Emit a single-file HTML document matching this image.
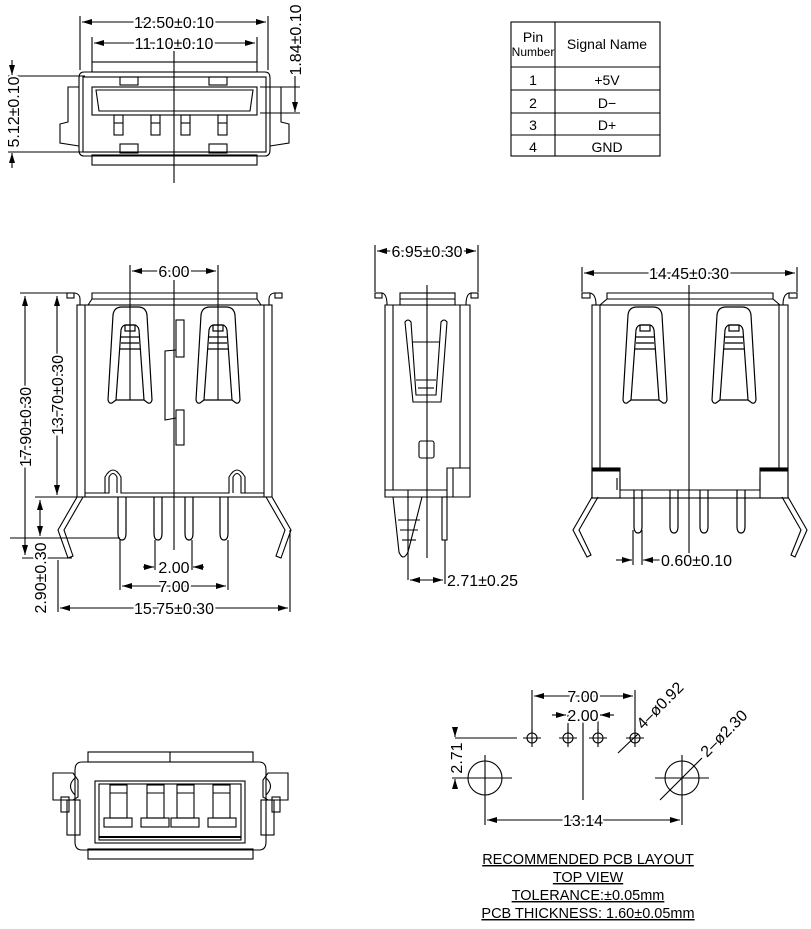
<!DOCTYPE html>
<html><head><meta charset="utf-8"><style>
html,body{margin:0;padding:0;background:#fff}
svg{display:block}
text{font-family:"Liberation Sans",Arial,sans-serif;fill:#000}
</style></head><body>
<svg width="811" height="929" viewBox="0 0 811 929" xmlns="http://www.w3.org/2000/svg">
<defs>
<marker id="a" viewBox="0 0 10 6" refX="10" refY="3" markerWidth="10" markerHeight="6" orient="auto-start-reverse" markerUnits="userSpaceOnUse"><path d="M0,0 L10,3 L0,6 z" fill="#000"/></marker>
<g id="spring" fill="none" stroke="#000" stroke-width="1.2">
<path d="M-22,93 L-17,8 Q-16,0 -8,0 L8,0 Q16,0 17,8 L22,93 Q21,97 18,96 L14,93 L-14,93 L-18,96 Q-21,97 -22,93 Z"/>
<path d="M-14,93 L-9,23 Q-8,18 -4,18 L4,18 Q8,18 9,23 L14,93"/>
<rect x="-5" y="18" width="10" height="6"/>
<line x1="-9" y1="30" x2="9" y2="30"/><line x1="-9" y1="36" x2="9" y2="36"/><line x1="-10" y1="42" x2="10" y2="42"/>
</g>
<g id="pin" fill="none" stroke="#000" stroke-width="1.2">
<path d="M-4,0 L-4,36 Q-4,43 0,43 Q4,43 4,36 L4,0"/>
</g>
</defs>
<g fill="none" stroke="#000" stroke-width="1.1">
<rect x="92" y="62" width="165" height="10"/>
<path d="M84,72 L265,72 Q270,72 270,78 L270,150 Q270,156 265,156 L84,156 Q79,156 79,150 L79,78 Q79,72 84,72 Z"/>
<rect x="83" y="77" width="183" height="75"/>
<rect x="92" y="87" width="165" height="28"/>
<path d="M96,90 L253,90 L250,111 L99,111 Z"/>
<rect x="92" y="155" width="165" height="10"/>
<rect x="120" y="77" width="18" height="8"/><rect x="209" y="77" width="18" height="8"/>
<rect x="120" y="144" width="18" height="9"/><rect x="209" y="144" width="18" height="9"/>
<rect x="114" y="115" width="9" height="20"/><rect x="151" y="115" width="9" height="20"/><rect x="181" y="115" width="9" height="20"/><rect x="218" y="115" width="9" height="20"/>
<line x1="114" y1="123" x2="123" y2="123"/><line x1="151" y1="123" x2="160" y2="123"/><line x1="181" y1="123" x2="190" y2="123"/><line x1="218" y1="123" x2="227" y2="123"/>
<path d="M79,87 L68,87 L68,122 L60,124 L60,143 L79,146"/>
<path d="M270,87 L281,87 L281,122 L289,124 L289,143 L270,146"/>
<line x1="174" y1="50" x2="174" y2="183"/>
<line x1="80" y1="16" x2="80" y2="70"/><line x1="268" y1="16" x2="268" y2="70"/>
<line x1="82" y1="22" x2="266" y2="22" marker-start="url(#a)" marker-end="url(#a)"/>
<line x1="92" y1="37" x2="92" y2="62"/><line x1="257" y1="37" x2="257" y2="62"/>
<line x1="94" y1="43" x2="255" y2="43" marker-start="url(#a)" marker-end="url(#a)"/>
<line x1="8" y1="76" x2="85" y2="76"/><line x1="8" y1="152" x2="85" y2="152"/>
<line x1="12" y1="60" x2="12" y2="75" marker-end="url(#a)"/><line x1="12" y1="168" x2="12" y2="153" marker-end="url(#a)"/>
<line x1="260" y1="87" x2="300" y2="87"/><line x1="260" y1="113" x2="300" y2="113"/>
<line x1="295" y1="70" x2="295" y2="112" marker-end="url(#a)"/>
<rect x="511" y="22" width="149" height="134"/>
<line x1="555" y1="22" x2="555" y2="156"/>
<line x1="511" y1="67" x2="660" y2="67"/><line x1="511" y1="90" x2="660" y2="90"/><line x1="511" y1="113" x2="660" y2="113"/><line x1="511" y1="135" x2="660" y2="135"/>
<path d="M67,293 L75,293 Q80,294 80,299 L80,305 M282,293 L274,293 Q269,294 269,299 L269,305"/>
<rect x="67" y="293" width="7" height="5"/><rect x="275" y="293" width="7" height="5"/>
<path d="M88,305 L92,299 L92,293 L257,293 L257,299 L261,305"/>
<line x1="92" y1="299" x2="257" y2="299"/>
<rect x="77" y="305" width="195" height="192"/>
<line x1="85" y1="305" x2="85" y2="497"/><line x1="264" y1="305" x2="264" y2="497"/>
<path d="M85,493 L109,493 L109,477 Q113,470 117,477 L117,493 M233,493 L233,477 Q237,470 241,477 L241,493 L264,493"/>
<path d="M105,493 L105,477 Q113,463 121,477 L121,493 L229,493 L229,477 Q237,463 245,477 L245,493"/>
<use href="#spring" transform="translate(130,307)"/>
<use href="#spring" transform="translate(218,307)"/>
<rect x="176" y="320" width="8" height="37"/><rect x="176" y="410" width="8" height="35"/>
<path d="M176,350 L165,351 L165,420 L176,418"/>
<use href="#pin" transform="translate(122,497)"/><use href="#pin" transform="translate(158,497)"/><use href="#pin" transform="translate(189,497)"/><use href="#pin" transform="translate(224,497)"/>
<path d="M77,497 L58,530 L68,558 L73,556 L64,530 L83,497"/>
<path d="M272,497 L291,530 L281,558 L276,556 L285,530 L266,497"/>
<line x1="174" y1="280" x2="174" y2="550"/>
<line x1="130" y1="265" x2="130" y2="400"/><line x1="218" y1="265" x2="218" y2="400"/>
<line x1="132" y1="271" x2="216" y2="271" marker-start="url(#a)" marker-end="url(#a)"/>
<line x1="20" y1="293" x2="70" y2="293"/>
<line x1="25" y1="296" x2="25" y2="555" marker-start="url(#a)" marker-end="url(#a)"/>
<line x1="57" y1="296" x2="57" y2="495" marker-start="url(#a)" marker-end="url(#a)"/>
<line x1="35" y1="497" x2="80" y2="497"/><line x1="10" y1="538" x2="120" y2="538"/><line x1="22" y1="558" x2="72" y2="558"/>
<line x1="40" y1="500" x2="40" y2="536" marker-start="url(#a)" marker-end="url(#a)"/>
<line x1="155" y1="540" x2="155" y2="570"/><line x1="192" y1="540" x2="192" y2="570"/>
<line x1="143" y1="567" x2="154" y2="567" marker-end="url(#a)"/><line x1="204" y1="567" x2="193" y2="567" marker-end="url(#a)"/>
<line x1="120" y1="540" x2="120" y2="590"/><line x1="228" y1="540" x2="228" y2="590"/>
<line x1="122" y1="586" x2="226" y2="586" marker-start="url(#a)" marker-end="url(#a)"/>
<line x1="58" y1="560" x2="58" y2="612"/><line x1="290" y1="530" x2="290" y2="612"/>
<line x1="60" y1="608" x2="288" y2="608" marker-start="url(#a)" marker-end="url(#a)"/>
<rect x="375" y="293" width="7" height="5"/><rect x="471" y="293" width="7" height="5"/>
<path d="M382,293 Q387,294 387,305 M471,293 Q466,294 466,305"/>
<rect x="400" y="293" width="55" height="12"/><line x1="400" y1="299" x2="455" y2="299"/>
<path d="M385,305 L470,305 L470,497 L385,497 Z"/>
<line x1="393" y1="305" x2="393" y2="490"/><line x1="460" y1="305" x2="460" y2="468"/>
<path d="M447,497 L447,468 L470,468 M453,468 L453,497"/>
<line x1="385" y1="490" x2="447" y2="490"/>
<path d="M405,322 Q408,318 411,322 L416,395 L436,395 L441,322 Q444,318 447,322 L441,402 L413,402 Z"/>
<line x1="413" y1="342" x2="439" y2="342"/><line x1="416" y1="380" x2="436" y2="380"/><line x1="418" y1="388" x2="434" y2="388"/>
<rect x="419" y="441" width="15" height="17" rx="2"/>
<path d="M393,497 L399,552 Q403,562 408,552 L422,497"/>
<line x1="398" y1="520" x2="420" y2="520"/><line x1="400" y1="530" x2="418" y2="530"/><line x1="402" y1="540" x2="416" y2="540"/>
<line x1="408" y1="490" x2="408" y2="580"/>
<rect x="442" y="497" width="5" height="43"/>
<line x1="445" y1="540" x2="445" y2="584"/>
<line x1="427" y1="285" x2="427" y2="558"/>
<line x1="375" y1="245" x2="375" y2="292"/><line x1="478" y1="245" x2="478" y2="292"/>
<line x1="377" y1="251" x2="476" y2="251" marker-start="url(#a)" marker-end="url(#a)"/>
<line x1="410" y1="580" x2="443" y2="580" marker-start="url(#a)" marker-end="url(#a)"/>
<rect x="582" y="293" width="8" height="5"/><rect x="789" y="293" width="8" height="5"/>
<path d="M590,293 Q596,294 596,305 M789,293 Q783,294 783,305"/>
<path d="M600,305 L607,299 L607,293 L773,293 L773,299 L780,305"/><line x1="607" y1="299" x2="773" y2="299"/>
<rect x="592" y="305" width="196" height="193"/>
<line x1="600" y1="305" x2="600" y2="468"/><line x1="779" y1="305" x2="779" y2="468"/>
<rect x="592" y="468" width="28" height="30"/><rect x="760" y="468" width="28" height="30"/>
<line x1="592" y1="470" x2="620" y2="470" stroke-width="3"/><line x1="760" y1="470" x2="788" y2="470" stroke-width="3"/>
<path d="M620,476 L620,490 L760,490 L760,476 M617,478 L617,490"/>
<use href="#spring" transform="translate(645,307)"/><use href="#spring" transform="translate(734,307)"/>
<use href="#pin" transform="translate(638,490)"/><use href="#pin" transform="translate(674,490)"/><use href="#pin" transform="translate(704,490)"/><use href="#pin" transform="translate(741,490)"/>
<path d="M592,497 L573,530 L587,557 L591,555 L579,530 L598,497"/>
<path d="M788,497 L807,530 L795,557 L791,555 L801,530 L782,497"/>
<line x1="689" y1="285" x2="689" y2="555"/>
<line x1="582" y1="267" x2="582" y2="292"/><line x1="797" y1="267" x2="797" y2="292"/>
<line x1="584" y1="273" x2="795" y2="273" marker-start="url(#a)" marker-end="url(#a)"/>
<line x1="633" y1="530" x2="633" y2="565"/><line x1="642" y1="530" x2="642" y2="565"/>
<line x1="616" y1="560" x2="632" y2="560" marker-end="url(#a)"/><line x1="660" y1="560" x2="643" y2="560" marker-end="url(#a)"/>
<rect x="88" y="752" width="165" height="10"/><line x1="170" y1="752" x2="170" y2="762"/>
<path d="M82,762 L259,762 Q266,762 266,770 L266,842 Q266,850 259,850 L82,850 Q75,850 75,842 L75,770 Q75,762 82,762 Z"/>
<rect x="95" y="781" width="150" height="62"/>
<rect x="99" y="784" width="142" height="56"/>
<line x1="99" y1="837" x2="241" y2="837" stroke-width="2"/>
<rect x="88" y="849" width="165" height="10"/>
<rect x="110" y="785" width="17" height="33"/><rect x="147" y="785" width="17" height="33"/><rect x="177" y="785" width="17" height="33"/><rect x="213" y="785" width="17" height="33"/>
<line x1="110" y1="793" x2="127" y2="793"/><line x1="147" y1="793" x2="164" y2="793"/><line x1="177" y1="793" x2="194" y2="793"/><line x1="213" y1="793" x2="230" y2="793"/>
<rect x="104" y="818" width="28" height="9"/><rect x="141" y="818" width="28" height="9"/><rect x="171" y="818" width="28" height="9"/><rect x="208" y="818" width="28" height="9"/>
<path d="M53,773 L73,773 L78,780 L78,797 L73,800 L53,800 Z"/><path d="M75,778 Q66,786 75,795"/>
<path d="M288,773 L268,773 L263,780 L263,797 L268,800 L288,800 Z"/><path d="M266,778 Q275,786 266,795"/>
<rect x="67" y="800" width="13" height="35"/><rect x="261" y="800" width="13" height="35"/>
<rect x="61" y="797" width="8" height="15"/><rect x="272" y="797" width="8" height="15"/>
<line x1="532" y1="690" x2="532" y2="733"/><line x1="635" y1="690" x2="635" y2="733"/>
<line x1="534" y1="696" x2="633" y2="696" marker-start="url(#a)" marker-end="url(#a)"/>
<line x1="568" y1="710" x2="568" y2="733"/><line x1="598" y1="710" x2="598" y2="733"/>
<line x1="552" y1="715" x2="566" y2="715" marker-end="url(#a)"/><line x1="614" y1="715" x2="600" y2="715" marker-end="url(#a)"/>
<line x1="583" y1="713" x2="583" y2="800"/>
<circle cx="532" cy="738" r="5"/><circle cx="568" cy="738" r="5"/><circle cx="598" cy="738" r="5"/><circle cx="635" cy="738" r="5"/>
<path d="M523,738 L541,738 M532,729 L532,747 M559,738 L577,738 M568,729 L568,747 M589,738 L607,738 M598,729 L598,747 M626,738 L644,738 M635,729 L635,747"/>
<line x1="455" y1="738" x2="517" y2="738"/>
<circle cx="485" cy="778" r="17"/><circle cx="682" cy="778" r="17"/>
<path d="M458,778 L512,778 M485,755 L485,825 M655,778 L709,778 M682,755 L682,825"/>
<line x1="455" y1="728" x2="455" y2="737" marker-end="url(#a)"/><line x1="455" y1="788" x2="455" y2="779" marker-end="url(#a)"/>
<line x1="452" y1="778" x2="470" y2="778"/>
<line x1="487" y1="820" x2="680" y2="820" marker-start="url(#a)" marker-end="url(#a)"/>
<line x1="618" y1="753" x2="638" y2="734"/><line x1="660" y1="800" x2="702" y2="758"/>
</g>
<g font-size="16" style="paint-order:stroke" stroke="#fff" stroke-width="4">
<text x="174" y="28" text-anchor="middle">12.50±0.10</text>
<text x="174" y="49" text-anchor="middle">11.10±0.10</text>
<text transform="translate(19,112) rotate(-90)" text-anchor="middle">5.12±0.10</text>
<text transform="translate(301,40) rotate(-90)" text-anchor="middle">1.84±0.10</text>
<text x="174" y="277" text-anchor="middle">6.00</text>
<text transform="translate(31,427) rotate(-90)" text-anchor="middle">17.90±0.30</text>
<text transform="translate(63,395) rotate(-90)" text-anchor="middle">13.70±0.30</text>
<text transform="translate(46,578) rotate(-90)" text-anchor="middle">2.90±0.30</text>
<text x="174" y="573" text-anchor="middle">2.00</text>
<text x="174" y="592" text-anchor="middle">7.00</text>
<text x="174" y="614" text-anchor="middle">15.75±0.30</text>
<text x="427" y="257" text-anchor="middle">6.95±0.30</text>
<text x="447" y="586">2.71±0.25</text>
<text x="689" y="279" text-anchor="middle">14.45±0.30</text>
<text x="661" y="566">0.60±0.10</text>
<text x="583" y="702" text-anchor="middle">7.00</text>
<text x="583" y="721" text-anchor="middle">2.00</text>
<text transform="translate(462,758) rotate(-90)" text-anchor="middle">2.71</text>
<text x="583" y="826" text-anchor="middle">13.14</text>
<text transform="translate(643,730) rotate(-45)">4–ø0.92</text>
<text transform="translate(707,758) rotate(-45)">2–ø2.30</text>
</g>
<g font-size="14.5" text-anchor="middle" text-decoration="underline">
<text x="588" y="864">RECOMMENDED  PCB  LAYOUT</text>
<text x="588" y="882">TOP  VIEW</text>
<text x="588" y="900">TOLERANCE:±0.05mm</text>
<text x="588" y="918">PCB THICKNESS: 1.60±0.05mm</text>
</g>
<g font-size="14" text-anchor="middle" style="font-family:'DejaVu Sans Condensed','Liberation Sans',sans-serif" font-stretch="condensed">
<text x="533" y="42">Pin</text>
<text x="533" y="56" font-size="12">Number</text>
<text x="607" y="49">Signal  Name</text>
<text x="533" y="85">1</text><text x="607" y="85">+5V</text>
<text x="533" y="108">2</text><text x="607" y="108">D−</text>
<text x="533" y="130">3</text><text x="607" y="130">D+</text>
<text x="533" y="152">4</text><text x="607" y="152">GND</text>
</g>
</svg>
</body></html>
